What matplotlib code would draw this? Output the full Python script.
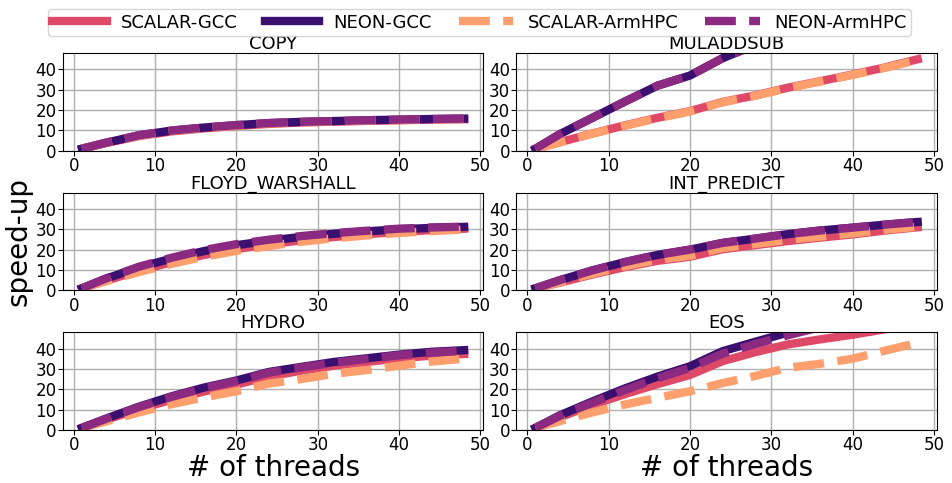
import matplotlib
matplotlib.use("Agg")
import matplotlib.pyplot as plt
import numpy as np

# thread counts
threads = [1, 4, 8, 12, 16, 20, 24, 28, 32, 36, 40, 44, 48]

series_names = ["SCALAR-GCC", "NEON-GCC", "SCALAR-ArmHPC", "NEON-ArmHPC"]
benchmarks = ["COPY", "MULADDSUB", "FLOYD_WARSHALL", "INT_PREDICT", "HYDRO", "EOS"]

# speed-up values, one list per series
copy_scalar_gcc = [1, 3.8, 7.2, 9.5, 11.0, 12.2, 13.2, 13.9, 14.3, 14.7, 15.0, 15.3, 15.5]
copy_neon_gcc = [1, 4.0, 7.6, 9.9, 11.4, 12.6, 13.6, 14.2, 14.6, 15.0, 15.3, 15.6, 15.8]
copy_scalar_arm = [1, 3.9, 7.4, 9.7, 11.2, 12.4, 13.4, 14.0, 14.4, 14.8, 15.1, 15.4, 15.6]
copy_neon_arm = [1, 4.0, 7.6, 9.9, 11.4, 12.6, 13.6, 14.2, 14.6, 15.0, 15.3, 15.6, 15.8]

muladd_scalar_gcc = [1, 4.2, 8.5, 12.5, 16.2, 19.5, 24.0, 27.2, 31.0, 34.2, 37.5, 41.0, 45.0]
muladd_neon_gcc = [1, 8.2, 16.2, 24.2, 32.0, 37.0, 45.5, 52.0, 58.0, 64.0, 70.0, 76.0, 82.0]
muladd_scalar_arm = [1, 4.1, 8.4, 12.3, 16.0, 19.3, 23.8, 27.0, 30.8, 34.0, 37.3, 40.8, 44.6]
muladd_neon_arm = [1, 8.2, 16.2, 24.2, 32.0, 37.0, 45.5, 52.0, 58.0, 64.0, 70.0, 76.0, 82.0]

floyd_scalar_gcc = [1, 4.8, 9.6, 13.8, 17.4, 20.3, 22.6, 24.6, 26.2, 27.6, 28.7, 29.6, 30.3]
floyd_neon_gcc = [1, 5.8, 11.3, 15.6, 19.3, 22.2, 24.4, 26.3, 27.8, 29.0, 30.0, 30.7, 31.2]
floyd_scalar_arm = [1, 4.5, 9.0, 13.0, 16.5, 19.4, 21.8, 23.9, 25.6, 27.0, 28.2, 29.1, 29.9]
floyd_neon_arm = [1, 5.9, 11.6, 16.0, 19.8, 22.7, 24.9, 26.7, 28.1, 29.3, 30.3, 30.9, 31.3]

intp_scalar_gcc = [1, 3.8, 7.8, 11.4, 14.5, 16.5, 20.2, 22.2, 24.2, 25.9, 27.5, 29.4, 31.0]
intp_neon_gcc = [1, 5.0, 9.8, 13.9, 17.4, 20.0, 23.3, 25.4, 27.6, 29.4, 30.8, 32.3, 33.6]
intp_scalar_arm = [1, 4.0, 8.2, 11.9, 15.0, 17.0, 20.8, 22.8, 24.8, 26.4, 28.0, 29.8, 31.3]
intp_neon_arm = [1, 5.0, 9.8, 13.9, 17.4, 20.0, 23.3, 25.4, 27.6, 29.4, 30.8, 32.3, 33.6]

hydro_scalar_gcc = [1, 5.0, 10.2, 14.8, 18.9, 22.3, 26.3, 29.1, 31.6, 33.4, 35.2, 36.5, 37.3]
hydro_neon_gcc = [1, 5.6, 11.4, 16.5, 20.8, 24.3, 28.5, 31.0, 33.4, 35.2, 37.0, 38.4, 39.2]
hydro_scalar_arm = [1, 4.2, 8.6, 12.6, 16.0, 19.0, 22.8, 25.0, 27.6, 29.4, 31.6, 33.6, 35.0]
hydro_neon_arm = [1, 5.5, 11.2, 16.2, 20.5, 24.0, 28.2, 30.7, 33.0, 34.9, 36.7, 38.0, 38.9]

eos_scalar_gcc = [1, 6.2, 12.3, 17.6, 22.5, 27.0, 33.8, 38.2, 42.0, 44.5, 46.8, 49.5, 52.0]
eos_neon_gcc = [1, 7.2, 14.0, 20.4, 26.2, 31.3, 38.7, 43.3, 47.8, 52.0, 56.0, 60.0, 64.0]
eos_scalar_arm = [1, 4.3, 8.6, 12.5, 15.8, 19.0, 23.0, 26.5, 30.5, 32.5, 35.0, 39.0, 42.8]
eos_neon_arm = [1, 6.9, 13.4, 19.6, 25.4, 30.5, 37.5, 42.2, 46.5, 50.5, 54.5, 58.5, 62.5]

data = {
    "COPY": [copy_scalar_gcc, copy_neon_gcc, copy_scalar_arm, copy_neon_arm],
    "MULADDSUB": [muladd_scalar_gcc, muladd_neon_gcc, muladd_scalar_arm, muladd_neon_arm],
    "FLOYD_WARSHALL": [floyd_scalar_gcc, floyd_neon_gcc, floyd_scalar_arm, floyd_neon_arm],
    "INT_PREDICT": [intp_scalar_gcc, intp_neon_gcc, intp_scalar_arm, intp_neon_arm],
    "HYDRO": [hydro_scalar_gcc, hydro_neon_gcc, hydro_scalar_arm, hydro_neon_arm],
    "EOS": [eos_scalar_gcc, eos_neon_gcc, eos_scalar_arm, eos_neon_arm],
}

cmap = plt.get_cmap("magma")
colors = [cmap(0.6), cmap(0.2), cmap(0.8), cmap(0.4)]
styles = ["-", "-", "--", "--"]

fig, axes = plt.subplots(3, 2, figsize=(9.53, 4.83), dpi=100)
fig.subplots_adjust(left=0.066, right=0.983, top=0.890, bottom=0.110,
                    wspace=0.079, hspace=0.43)

for ax, name in zip(axes.flat, benchmarks):
    for vals, label, c, ls in zip(data[name], series_names, colors, styles):
        ax.plot(threads, vals, color=c, linestyle=ls, linewidth=6, label=label)
    ax.set_title(name, fontsize=13, pad=2)
    ax.set_ylim(0, 48)
    ax.set_yticks([0, 10, 20, 30, 40])
    ax.set_xticks([0, 10, 20, 30, 40, 50])
    ax.tick_params(labelsize=12, pad=1)
    ax.grid(True, color="#b0b0b0", linewidth=1)
    ax.set_axisbelow(True)

axes[2, 0].set_xlabel("# of threads", fontsize=20, labelpad=0)
axes[2, 1].set_xlabel("# of threads", fontsize=20, labelpad=0)
fig.text(0.019, 0.5, "speed-up", rotation=90, fontsize=20, va="center", ha="center")

handles, labels = axes[0, 0].get_legend_handles_labels()
fig.legend(handles, labels, loc="upper center", bbox_to_anchor=(0.503, 1.0),
           ncol=4, fontsize=13, handlelength=3.0, columnspacing=1.5,
           borderpad=0.25, fancybox=True)

fig.savefig("out.png", dpi=100)
